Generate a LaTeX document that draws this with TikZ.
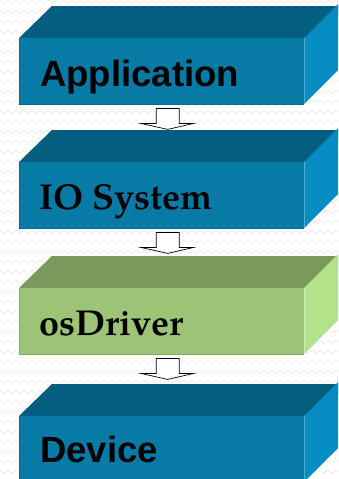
\documentclass[tikz,border=0pt]{standalone}
\usepackage{fontspec}
\usetikzlibrary{calc}
\setmainfont{texgyrepagella}[Extension=.otf, UprightFont=*-regular, BoldFont=*-bold]
\newfontfamily\armfont{Liberation Sans}[BoldFont={Liberation Sans Bold}]

\definecolor{bluefront}{HTML}{087AA6}
\definecolor{bluetop}{HTML}{045E80}
\definecolor{blueside}{HTML}{058CC0}
\definecolor{greenfront}{HTML}{9DC476}
\definecolor{greentop}{HTML}{7A995D}
\definecolor{greenside}{HTML}{B2E28A}
\definecolor{paperline}{HTML}{EDEDED}

\tikzset{
  front/.style={draw=none, inner sep=0pt, anchor=north west,
    minimum width=285pt, minimum height=66pt},
  boxlabel/.style={anchor=base west, inner sep=0pt, text=black},
  flowarrow/.style={draw=black, line width=0.7pt, fill=white, line join=miter},
}

% slab: front face is a node; top and side faces are drawn behind it
\newcommand{\slab}[5]{% name, top y, front, top, side
  \fill[#4] (19,#2) -- ++(33,-32) -- ++(300,0) -- (304,#2) -- cycle;
  \fill[#5] (304,#2) -- ++(34,-34) -- ++(0,66) -- ++(-34,34) -- cycle;
  \node[front, fill=#3] (#1) at (19,#2) {};
  \draw[#3!85!black, line width=0.8pt] (#1.north west) -- (#1.south west) -- (#1.south east);
  \draw[#5!70!white, line width=0.6pt] (#1.north east) -- (#1.south east);
}

% hollow block arrow hanging below a slab, pointing at the next one
\newcommand{\flow}[2]{%
  \draw[flowarrow]
    ($(#1.south)+(-5.5,4)$) -- ($(#1.south)+(17.5,4)$)
    -- ($(#1.south)+(17.5,19)$) -- ($(#1.south)+(32,19)$)
    -- ($(#1.south)!25pt!(#2.north)+(6,0)$)
    -- ($(#1.south)+(-21,19)$) -- ($(#1.south)+(-5.5,19)$) -- cycle;
}

\begin{document}
\begin{tikzpicture}[x=1pt, y=-1pt]
  \useasboundingbox (0,0) rectangle (338,479);
  \clip (0,0) rectangle (338,479);
  \fill[white] (0,0) rectangle (338,479);

  % textured paper background
  \foreach \r in {0,...,48} {
    \draw[paperline, line width=0.8pt]
      (-4,{10*\r+3}) \foreach \i in {0,...,43} { -- ++(4,-2.5) -- ++(4,2.5) };
  }

  \slab{app}{38}{bluefront}{bluetop}{blueside}
  \slab{iosys}{162}{bluefront}{bluetop}{blueside}
  \slab{drv}{288}{greenfront}{greentop}{greenside}
  \slab{dev}{416}{bluefront}{bluetop}{blueside}

  \node[boxlabel, font=\armfont\bfseries\fontsize{36.5}{40}\selectfont]
    (appt) at (40,86) {Application};
  \node[boxlabel, font=\bfseries\fontsize{36}{40}\selectfont]
    (iost) at (39,209) {IO System};
  \node[boxlabel, font=\bfseries\fontsize{36}{40}\selectfont]
    (drvt) at (39,335) {osDriver};
  \node[boxlabel, font=\armfont\bfseries\fontsize{36.5}{40}\selectfont]
    (devt) at (40,462) {Device};

  \flow{app}{iosys}
  \flow{iosys}{drv}
  \flow{drv}{dev}
\end{tikzpicture}
\end{document}
